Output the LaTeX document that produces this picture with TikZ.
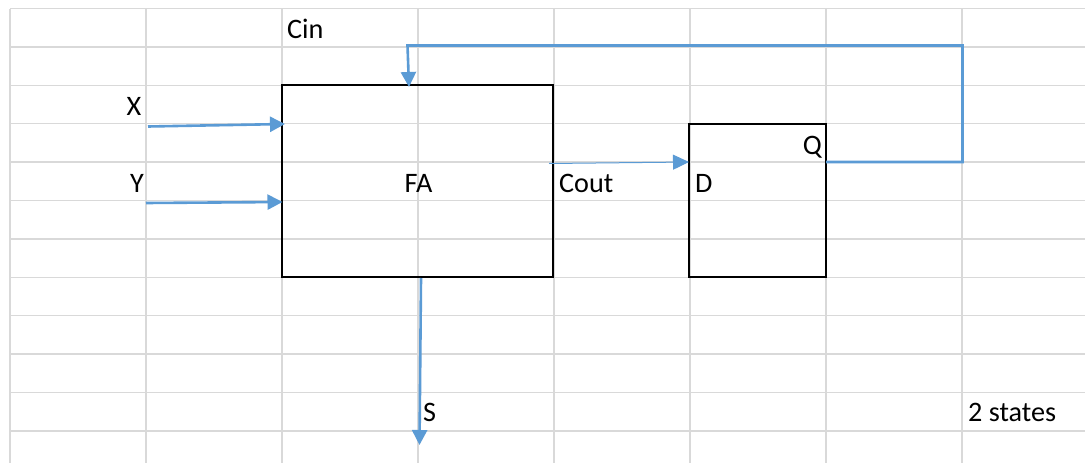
\documentclass[tikz,border=0pt]{standalone}
\usepackage{fontspec}
\setmainfont{Carlito}
\usetikzlibrary{arrows.meta}
\definecolor{gridgray}{HTML}{D9D9D9}
\definecolor{wireblue}{HTML}{5B9BD5}
\begin{document}
\begin{tikzpicture}[x=1pt,y=-1pt,
  gridline/.style={draw=gridgray,line width=1.5pt},
  blockbox/.style={draw=black,line width=2pt,inner sep=0pt,outer sep=0pt},
  lbl/.style={inner sep=0pt,font=\fontsize{28.2}{33}\selectfont},
  wire/.style={draw=wireblue,line width=2.6pt,-{Triangle[length=15pt,width=15pt]}},
  thinwire/.style={draw=wireblue,line width=1pt,-{Triangle[length=16pt,width=15pt]}}]
\useasboundingbox[fill=white] (0,0) rectangle (1085,463);
% spreadsheet grid
\foreach \gx in {10,146,282,418,554,690,826,962}
  \draw[gridline] (\gx,8.5) -- (\gx,463);
\foreach \k in {0,...,11}
  \draw[gridline] (10,8.5+38.4*\k) -- (1085,8.5+38.4*\k);
% blocks
\node[blockbox,minimum width=271pt,minimum height=192pt,anchor=north west] (fa) at (282,85.3) {};
\node[blockbox,minimum width=137pt,minimum height=153.6pt,anchor=north west] (dff) at (689,123.7) {};
% labels
\node[lbl,anchor=base west] (cin) at (287,38) {Cin};
\node[lbl,anchor=base east] (xl) at (141.5,115.5) {X};
\node[lbl,anchor=base east] (yl) at (144,192) {Y};
\node[lbl,anchor=base] (fal) at (418.5,192) {FA};
\node[lbl,anchor=base west] (cout) at (559,192) {Cout};
\node[lbl,anchor=base west] (dl) at (695,192) {D};
\node[lbl,anchor=base east] (ql) at (822,154.5) {Q};
\node[lbl,anchor=base west] (sl) at (423,421) {S};
\node[lbl,anchor=base west] (states) at (968,421) {2 states};
% wire end points
\coordinate (xs) at (148,126.5);
\coordinate (xe) at (285,124);
\coordinate (ys) at (146,203);
\coordinate (ye) at (282.5,202);
\coordinate (cs) at (549,163.5);
\coordinate (ce) at (689,162);
\coordinate (qs) at (826,162);
\coordinate (fb1) at (962.5,162);
\coordinate (fb2) at (962.5,45.5);
\coordinate (fb3) at (407.5,45.5);
\coordinate (cine) at (409,87);
\coordinate (ss) at (421,278);
\coordinate (se) at (419.5,445);
% wires
\draw[wire] (xs) -- (xe);
\draw[wire] (ys) -- (ye);
\draw[thinwire] (cs) -- (ce);
\draw[wire] (qs) -- (fb1) -- (fb2) -- (fb3) -- (cine);
\draw[wire] (ss) -- (se);
\end{tikzpicture}
\end{document}
